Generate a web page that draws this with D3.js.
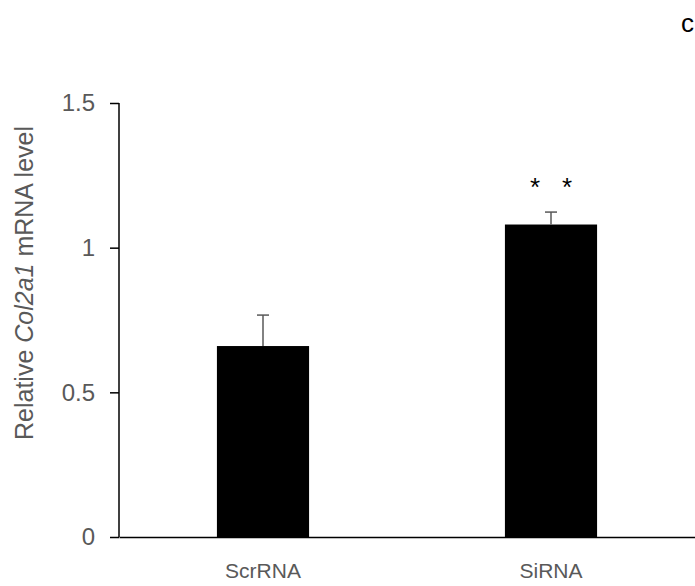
<!DOCTYPE html>
<html><head><meta charset="utf-8">
<script src="https://cdn.jsdelivr.net/npm/d3@7"></script>
<style>body{margin:0;background:#fff}svg{display:block}text{font-family:Arial,"Liberation Sans",sans-serif}</style>
</head><body>
<script>
const categories = ["ScrRNA", "SiRNA"];
const values = [0.66, 1.08];
const errors = [0.107, 0.043];
const yTicks = [0, 0.5, 1, 1.5];
const tickLabels = ["0", "0.5", "1", "1.5"];
const significance = [0, 2]; // number of asterisks

const W = 695, H = 586;
const FONT = "Arial, 'Liberation Sans', sans-serif";
const svg = d3.select("body").append("svg").attr("width", W).attr("height", H);
const x = d3.scaleBand().domain(categories).range([119, 695]).paddingInner(0.68).paddingOuter(0.34);
const y = d3.scaleLinear().domain([0, 1.5]).range([537, 103]);

// bars
svg.selectAll("rect.bar").data(categories).enter().append("rect")
  .attr("x", d => x(d)).attr("width", x.bandwidth())
  .attr("y", (d,i) => y(values[i])).attr("height", (d,i) => y(0) - y(values[i]))
  .attr("fill", "#000");

// error bars
const eg = svg.append("g").attr("stroke", "#595959").attr("stroke-width", 1.5);
categories.forEach((c,i) => {
  const cx = x(c) + x.bandwidth()/2;
  eg.append("line").attr("x1", cx).attr("x2", cx).attr("y1", y(values[i])).attr("y2", y(values[i]+errors[i]));
  eg.append("line").attr("x1", cx-6).attr("x2", cx+6).attr("y1", y(values[i]+errors[i])).attr("y2", y(values[i]+errors[i]));
});

// significance
categories.forEach((c,i) => {
  const n = significance[i];
  if (!n) return;
  const cx = x(c) + x.bandwidth()/2;
  for (let k = 0; k < n; k++) {
    const off = (k - (n-1)/2) * 32;
    svg.append("text").attr("x", cx + off).attr("y", y(values[i]+errors[i]) - 16)
      .attr("text-anchor", "middle").attr("font-size", 26).attr("fill", "#000").text("*");
  }
});

// y axis
const yAxis = d3.axisLeft(y).tickValues(yTicks).tickFormat((d,i) => tickLabels[i]).tickSize(9).tickPadding(15);
const ya = svg.append("g").attr("transform", "translate(119,0)").call(yAxis);
ya.select(".domain").attr("stroke", "#000").attr("stroke-width", 1.5).attr("d", "M0,103V537");
ya.selectAll(".tick line").attr("stroke", "#000").attr("stroke-width", 1.5);
ya.selectAll(".tick text").attr("font-size", 24).attr("fill", "#595959").attr("font-family", FONT);

// x axis
const xAxis = d3.axisBottom(x).tickSize(0).tickPadding(26);
const xa = svg.append("g").attr("transform", "translate(0,537)").call(xAxis);
xa.select(".domain").attr("stroke", "#000").attr("stroke-width", 1.5);
xa.selectAll(".tick text").attr("font-size", 21).attr("fill", "#595959").attr("font-family", FONT);

// y title
const t = svg.append("text").attr("transform", "translate(33,283) rotate(-90)")
  .attr("text-anchor", "middle").attr("font-size", 25).attr("fill", "#595959");
t.append("tspan").text("Relative ");
t.append("tspan").attr("font-style", "italic").text("Col2a1");
t.append("tspan").text(" mRNA level");

// panel label
svg.append("text").attr("x", 681).attr("y", 32).attr("font-size", 26).attr("fill", "#000").text("c");
</script>
</body></html>
